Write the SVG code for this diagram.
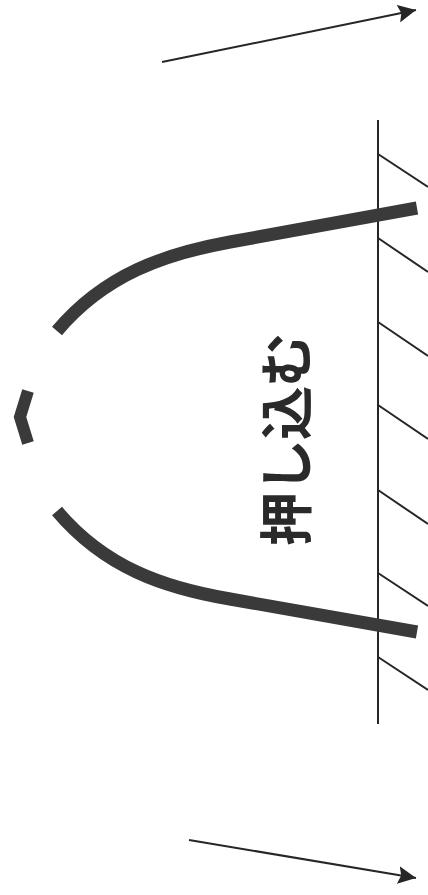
<svg xmlns="http://www.w3.org/2000/svg" width="428" height="895" viewBox="0 0 428 895">
<style>
.thin{fill:none;stroke:#262626;stroke-width:2}
.thick{fill:none;stroke:#3a3a3a;stroke-width:13}
.chev{fill:none;stroke:#3a3a3a;stroke-width:12}
.lbl{font-family:"Noto Sans CJK JP","Liberation Sans",sans-serif;font-size:54px;font-weight:700;fill:#2a2a2a}
</style>
<defs><marker id="a" markerUnits="userSpaceOnUse" markerWidth="20" markerHeight="18" refX="18" refY="9" orient="auto"><path d="M0 0L18 9L0 18L3 9Z" fill="#262626"/></marker></defs>
<rect width="428" height="895" fill="#fff"/>
<g id="connectors">
<path class="thin" d="M162 62L416 10" marker-end="url(#a)"/>
<path class="thin" d="M189 840L416 878" marker-end="url(#a)"/>
</g>
<g id="wall">
<path class="thin" d="M378 120V724"/>
<path class="thin" d="M378 154L428 187M378 238L428 272M378 322L428 356M378 405L428 439M378 490L428 524M378 573L428 606M378 657L428 690"/>
</g>
<g id="profile">
<path class="thick" d="M417 208L230 242C165 254 105 274 57 331"/>
<path class="thick" d="M417 632L230 599C165 588 105 568 57 511"/>
<path class="chev" d="M28 391L20 417L28 443"/>
</g>
<g id="label"><text class="lbl" transform="translate(307 546) rotate(-90)" textLength="213">押し込む</text></g>
</svg>
